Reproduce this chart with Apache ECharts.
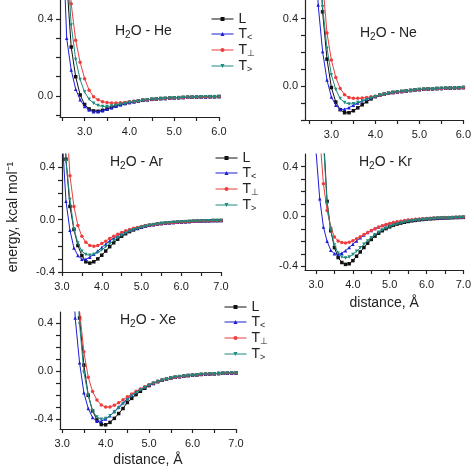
<!DOCTYPE html>
<html><head><meta charset="utf-8">
<script src="https://cdn.jsdelivr.net/npm/echarts@6/dist/echarts.min.js"></script>
<style>html,body{margin:0;padding:0;background:#fff}#c{width:474px;height:474px}</style>
</head><body><div id="c"></div>
<script>
// ---------- data ----------
const seriesNames = ['L', 'T<', 'T⊥', 'T>'];
const panelNames = ['He', 'Ne', 'Ar', 'Kr', 'Xe'];

// H2O - He
const heX = [2.5,2.6,2.7,2.8,2.9,3.0,3.1,3.2,3.3,3.4,3.5,3.6,3.7,3.8,3.9,4.0,4.1,4.2,4.3,4.4,4.5,4.6,4.7,4.8,4.9,5.0,5.1,5.2,5.3,5.4,5.5,5.6,5.7,5.8,5.9,6.0];
const heL     = [null,0.6,0.255,0.1,0.005,-0.045,-0.068,-0.078,-0.08,-0.075,-0.068,-0.06,-0.052,-0.045,-0.039,-0.034,-0.03,-0.026,-0.023,-0.02,-0.018,-0.016,-0.014,-0.013,-0.011,-0.01,-0.009,-0.008,-0.007,-0.0065,-0.006,-0.005,-0.005,-0.004,-0.004,-0.0035];
const heTlt   = [0.9,0.3,0.135,0.035,-0.02,-0.055,-0.073,-0.082,-0.082,-0.077,-0.07,-0.062,-0.054,-0.046,-0.04,-0.034,-0.03,-0.026,-0.023,-0.02,-0.018,-0.016,-0.014,-0.013,-0.011,-0.01,-0.009,-0.008,-0.007,-0.0065,-0.006,-0.005,-0.005,-0.004,-0.004,-0.0035];
const heTperp = [null,1.0,0.48,0.29,0.175,0.09,0.03,-0.005,-0.02,-0.03,-0.035,-0.037,-0.037,-0.036,-0.034,-0.031,-0.028,-0.025,-0.022,-0.02,-0.018,-0.016,-0.014,-0.013,-0.011,-0.01,-0.009,-0.008,-0.007,-0.0065,-0.006,-0.005,-0.005,-0.004,-0.004,-0.0035];
const heTgt   = [null,0.75,0.37,0.19,0.085,0.02,-0.018,-0.038,-0.05,-0.055,-0.055,-0.053,-0.049,-0.044,-0.039,-0.034,-0.03,-0.026,-0.023,-0.02,-0.018,-0.016,-0.014,-0.013,-0.011,-0.01,-0.009,-0.008,-0.007,-0.0065,-0.006,-0.005,-0.005,-0.004,-0.004,-0.0035];

// H2O - Ne
const neX = [2.6,2.7,2.8,2.9,3.0,3.1,3.2,3.3,3.4,3.5,3.6,3.7,3.8,3.9,4.0,4.1,4.2,4.3,4.4,4.5,4.6,4.7,4.8,4.9,5.0,5.1,5.2,5.3,5.4,5.5,5.6,5.7,5.8,5.9,6.0];
const neL     = [null,1.0,0.44,0.16,-0.008,-0.094,-0.139,-0.157,-0.157,-0.145,-0.128,-0.11,-0.092,-0.075,-0.062,-0.053,-0.047,-0.042,-0.037,-0.034,-0.031,-0.028,-0.025,-0.022,-0.02,-0.018,-0.016,-0.015,-0.014,-0.013,-0.012,-0.011,-0.01,-0.009,-0.008];
const neTlt   = [1.1,0.48,0.205,0.036,-0.064,-0.113,-0.137,-0.137,-0.127,-0.113,-0.1,-0.088,-0.077,-0.068,-0.06,-0.053,-0.047,-0.042,-0.037,-0.034,-0.031,-0.028,-0.025,-0.022,-0.02,-0.018,-0.016,-0.015,-0.014,-0.013,-0.012,-0.011,-0.01,-0.009,-0.008];
const neTperp = [null,null,0.62,0.315,0.155,0.052,-0.014,-0.05,-0.067,-0.072,-0.072,-0.07,-0.067,-0.063,-0.059,-0.053,-0.047,-0.042,-0.037,-0.034,-0.031,-0.028,-0.025,-0.022,-0.02,-0.018,-0.016,-0.015,-0.014,-0.013,-0.012,-0.011,-0.01,-0.009,-0.008];
const neTgt   = [null,1.1,0.47,0.225,0.066,-0.02,-0.073,-0.097,-0.105,-0.104,-0.097,-0.088,-0.079,-0.07,-0.062,-0.054,-0.048,-0.042,-0.037,-0.034,-0.031,-0.028,-0.025,-0.022,-0.02,-0.018,-0.016,-0.015,-0.014,-0.013,-0.012,-0.011,-0.01,-0.009,-0.008];

// H2O - Ar
const arX = [3.0,3.1,3.2,3.3,3.4,3.5,3.6,3.7,3.8,3.9,4.0,4.1,4.2,4.3,4.4,4.5,4.6,4.7,4.8,4.9,5.0,5.1,5.2,5.3,5.4,5.5,5.6,5.7,5.8,5.9,6.0,6.1,6.2,6.3,6.4,6.5,6.6,6.7,6.8,6.9,7.0];
const arL     = [1.5,0.46,0.1,-0.076,-0.198,-0.275,-0.322,-0.332,-0.322,-0.3,-0.272,-0.24,-0.207,-0.177,-0.15,-0.127,-0.108,-0.092,-0.079,-0.068,-0.058,-0.05,-0.044,-0.039,-0.034,-0.03,-0.027,-0.024,-0.022,-0.02,-0.018,-0.016,-0.015,-0.013,-0.012,-0.011,-0.01,-0.009,-0.008,-0.008,-0.007];
const arTlt   = [0.65,0.14,-0.082,-0.216,-0.275,-0.303,-0.303,-0.287,-0.265,-0.24,-0.213,-0.188,-0.163,-0.142,-0.123,-0.107,-0.093,-0.081,-0.071,-0.062,-0.055,-0.048,-0.043,-0.038,-0.034,-0.03,-0.027,-0.024,-0.022,-0.02,-0.018,-0.016,-0.015,-0.013,-0.012,-0.011,-0.01,-0.009,-0.008,-0.008,-0.007];
const arTperp = [2.0,0.85,0.335,0.1,-0.046,-0.127,-0.173,-0.198,-0.204,-0.198,-0.183,-0.165,-0.145,-0.127,-0.112,-0.098,-0.086,-0.076,-0.067,-0.06,-0.053,-0.047,-0.042,-0.037,-0.033,-0.03,-0.027,-0.024,-0.022,-0.02,-0.018,-0.016,-0.015,-0.013,-0.012,-0.011,-0.01,-0.009,-0.008,-0.008,-0.007];
const arTgt   = [1.4,0.445,0.153,-0.071,-0.178,-0.242,-0.267,-0.272,-0.267,-0.252,-0.232,-0.208,-0.184,-0.16,-0.139,-0.12,-0.104,-0.09,-0.078,-0.068,-0.059,-0.051,-0.045,-0.039,-0.035,-0.031,-0.027,-0.024,-0.022,-0.02,-0.018,-0.016,-0.015,-0.013,-0.012,-0.011,-0.01,-0.009,-0.008,-0.008,-0.007];

// H2O - Kr
const krX = [2.9,3.0,3.1,3.2,3.3,3.4,3.5,3.6,3.7,3.8,3.9,4.0,4.1,4.2,4.3,4.4,4.5,4.6,4.7,4.8,4.9,5.0,5.1,5.2,5.3,5.4,5.5,5.6,5.7,5.8,5.9,6.0,6.1,6.2,6.3,6.4,6.5,6.6,6.7,6.8,6.9,7.0];
const krL     = [null,null,null,0.65,0.12,-0.115,-0.25,-0.33,-0.37,-0.385,-0.38,-0.355,-0.32,-0.285,-0.25,-0.215,-0.185,-0.158,-0.135,-0.115,-0.098,-0.084,-0.072,-0.062,-0.054,-0.047,-0.041,-0.036,-0.032,-0.028,-0.025,-0.022,-0.02,-0.018,-0.016,-0.014,-0.013,-0.012,-0.011,-0.01,-0.009,-0.008];
const krTlt   = [1.3,0.52,0.141,-0.085,-0.2,-0.272,-0.3,-0.305,-0.295,-0.275,-0.25,-0.223,-0.197,-0.172,-0.15,-0.13,-0.113,-0.098,-0.085,-0.074,-0.065,-0.057,-0.05,-0.044,-0.039,-0.034,-0.03,-0.027,-0.024,-0.021,-0.019,-0.017,-0.015,-0.014,-0.012,-0.011,-0.01,-0.009,-0.008,-0.008,-0.007,-0.006];
const krTperp = [null,null,0.65,0.261,0.048,-0.091,-0.165,-0.197,-0.21,-0.213,-0.207,-0.195,-0.18,-0.163,-0.146,-0.13,-0.114,-0.099,-0.086,-0.075,-0.066,-0.057,-0.05,-0.044,-0.039,-0.034,-0.03,-0.027,-0.024,-0.021,-0.019,-0.017,-0.015,-0.014,-0.012,-0.011,-0.01,-0.009,-0.008,-0.008,-0.007,-0.006];
const krTgt   = [null,null,null,0.6,0.1,-0.11,-0.23,-0.295,-0.325,-0.333,-0.325,-0.305,-0.28,-0.252,-0.224,-0.197,-0.172,-0.148,-0.128,-0.11,-0.095,-0.082,-0.071,-0.061,-0.053,-0.046,-0.04,-0.035,-0.031,-0.028,-0.025,-0.022,-0.02,-0.018,-0.016,-0.014,-0.013,-0.012,-0.011,-0.01,-0.009,-0.008];

// H2O - Xe
const xeX = [3.2,3.3,3.4,3.5,3.6,3.7,3.8,3.9,4.0,4.1,4.2,4.3,4.4,4.5,4.6,4.7,4.8,4.9,5.0,5.1,5.2,5.3,5.4,5.5,5.6,5.7,5.8,5.9,6.0,6.1,6.2,6.3,6.4,6.5,6.6,6.7,6.8,6.9,7.0];
const xeL     = [null,1.3,0.44,0.05,-0.2,-0.33,-0.405,-0.443,-0.445,-0.425,-0.392,-0.352,-0.31,-0.26,-0.226,-0.195,-0.167,-0.142,-0.12,-0.103,-0.088,-0.076,-0.066,-0.058,-0.051,-0.046,-0.041,-0.037,-0.034,-0.031,-0.028,-0.026,-0.024,-0.022,-0.02,-0.018,-0.017,-0.016,-0.015];
const xeTlt   = [1.2,0.44,0.07,-0.18,-0.31,-0.385,-0.415,-0.415,-0.398,-0.37,-0.335,-0.298,-0.262,-0.228,-0.2,-0.174,-0.151,-0.131,-0.113,-0.098,-0.085,-0.074,-0.065,-0.057,-0.05,-0.045,-0.04,-0.036,-0.033,-0.03,-0.027,-0.025,-0.023,-0.021,-0.019,-0.018,-0.016,-0.015,-0.014];
const xeTperp = [null,1.4,0.5,0.16,-0.05,-0.17,-0.24,-0.28,-0.298,-0.297,-0.283,-0.262,-0.238,-0.213,-0.19,-0.168,-0.148,-0.13,-0.113,-0.098,-0.085,-0.074,-0.065,-0.057,-0.05,-0.045,-0.04,-0.036,-0.033,-0.03,-0.027,-0.025,-0.023,-0.021,-0.019,-0.018,-0.016,-0.015,-0.014];
const xeTgt   = [null,1.1,0.39,-0.01,-0.2,-0.33,-0.38,-0.4,-0.393,-0.37,-0.34,-0.305,-0.27,-0.237,-0.207,-0.18,-0.156,-0.135,-0.117,-0.101,-0.087,-0.076,-0.066,-0.058,-0.051,-0.046,-0.041,-0.037,-0.034,-0.031,-0.028,-0.026,-0.024,-0.022,-0.02,-0.018,-0.017,-0.016,-0.015];

// tick values / labels
const xTicksA = [2.5,3.0,3.5,4.0,4.5,5.0,5.5,6.0];
const xLabelsA = [3.0,4.0,5.0,6.0];
const xTicksB = [3.0,3.5,4.0,4.5,5.0,5.5,6.0,6.5,7.0];
const xLabelsB = [3.0,4.0,5.0,6.0,7.0];
const yTicksHe = [-0.1,0.0,0.1,0.2,0.3,0.4];
const yTicksNe = [-0.2,-0.1,0.0,0.1,0.2,0.3,0.4];
const yTicksHeavy = [-0.4,-0.3,-0.2,-0.1,0.0,0.1,0.2,0.3,0.4];
const yLabelsLight = [0.0,0.4];
const yLabelsHeavy = [-0.4,0.0,0.4];

// ---------- chart ----------
const FONT = '"Liberation Sans", Arial, sans-serif';
const colors = ['#111111', '#1c1cd8', '#ee3d3d', '#1d8a7f'];
const symbols = ['rect', 'triangle', 'circle', 'triangle'];
const rotates = [0, 0, 0, 180];

const panels = [
  {x: heX, ys: [heL, heTlt, heTperp, heTgt], grid: {left: 60, top: 0, width: 159, height: 117}, xr: [2.45, 6.0], yr: [-0.11, 0.5], xt: xTicksA, xl: xLabelsA, yt: yTicksHe, yl: yLabelsLight, title: [115, 22]},
  {x: neX, ys: [neL, neTlt, neTperp, neTgt], grid: {left: 305, top: 0, width: 160, height: 120}, xr: [2.4, 6.0], yr: [-0.2, 0.51], xt: xTicksA, xl: xLabelsA, yt: yTicksNe, yl: yLabelsLight, title: [360, 24]},
  {x: arX, ys: [arL, arTlt, arTperp, arTgt], grid: {left: 62, top: 154, width: 159, height: 118}, xr: [3.0, 7.0], yr: [-0.4, 0.5], xt: xTicksB, xl: xLabelsB, yt: yTicksHeavy, yl: yLabelsHeavy, title: [110, 153]},
  {x: krX, ys: [krL, krTlt, krTperp, krTgt], grid: {left: 305, top: 154, width: 160, height: 116}, xr: [2.7, 7.0], yr: [-0.43, 0.5], xt: xTicksB, xl: xLabelsB, yt: yTicksHeavy, yl: yLabelsHeavy, title: [359, 153], xname: true, xnameGap: 26},
  {x: xeX, ys: [xeL, xeTlt, xeTperp, xeTgt], grid: {left: 60, top: 312, width: 176, height: 117}, xr: [2.95, 7.0], yr: [-0.48, 0.49], xt: xTicksB, xl: xLabelsB, yt: yTicksHeavy, yl: yLabelsHeavy, title: [120, 311], xname: true, xnameGap: 24}
];

const lineCol = '#222';
const axisLineStyle = {onZero: false, lineStyle: {color: lineCol, width: 1.2}};
const tickStyle = {length: 4, lineStyle: {color: lineCol, width: 1.2}};
const labelStyle = {color: lineCol, fontSize: 11, fontFamily: FONT, formatter: v => v.toFixed(1)};

const grids = [], xAxes = [], yAxes = [], series = [], titles = [];
panels.forEach((p, gi) => {
  grids.push(Object.assign({containLabel: false}, p.grid));
  xAxes.push({
    type: 'value', gridIndex: gi, min: p.xr[0], max: p.xr[1],
    axisLine: axisLineStyle,
    axisTick: Object.assign({customValues: p.xt}, tickStyle),
    axisLabel: Object.assign({customValues: p.xl, margin: 9}, labelStyle),
    splitLine: {show: false},
    name: p.xname ? 'distance, Å' : '',
    nameLocation: 'middle', nameGap: p.xnameGap || 20,
    nameTextStyle: {fontSize: 14, color: lineCol, fontFamily: FONT}
  });
  yAxes.push({
    type: 'value', gridIndex: gi, min: p.yr[0], max: p.yr[1],
    axisLine: axisLineStyle,
    axisTick: Object.assign({customValues: p.yt}, tickStyle),
    axisLabel: Object.assign({customValues: p.yl, margin: 7}, labelStyle),
    splitLine: {show: false}
  });
  titles.push({
    text: '{a|H}{s|2}{a|O - ' + panelNames[gi] + '}',
    left: p.title[0], top: p.title[1], padding: 0,
    textStyle: {
      fontWeight: 'normal',
      rich: {
        a: {fontSize: 14, fontWeight: 'normal', fontFamily: FONT, color: lineCol, lineHeight: 18},
        s: {fontSize: 10, fontWeight: 'normal', fontFamily: FONT, color: lineCol, lineHeight: 10, padding: [9, 0, 0, 0]}
      }
    }
  });
  p.ys.forEach((vals, si) => {
    series.push({
      name: seriesNames[si], type: 'line', xAxisIndex: gi, yAxisIndex: gi,
      data: p.x.map((x, i) => [x, vals[i]]),
      symbol: symbols[si], symbolRotate: rotates[si], symbolSize: 3.5,
      lineStyle: {width: 1, color: colors[si]},
      itemStyle: {color: colors[si]},
      clip: true, z: 2 + si
    });
  });
});

const legendSub = {'L': '{t|L}', 'T<': '{t|T}{s|<}', 'T⊥': '{t|T}{s|⊥}', 'T>': '{t|T}{s|>}'};
function makeLegend(left, top) {
  return {
    data: seriesNames, orient: 'vertical', left: left, top: top,
    itemWidth: 22, itemHeight: 5, itemGap: 0, padding: 0,
    lineStyle: {width: 1},
    formatter: n => legendSub[n],
    textStyle: {
      rich: {
        t: {fontSize: 14, fontFamily: FONT, color: lineCol, lineHeight: 16},
        s: {fontSize: 9, fontFamily: FONT, color: lineCol, lineHeight: 9, padding: [7, 0, 0, 0]}
      }
    }
  };
}

const chart = echarts.init(document.getElementById('c'), null, {renderer: 'canvas'});
chart.setOption({
  animation: false,
  backgroundColor: '#fff',
  title: titles,
  grid: grids,
  xAxis: xAxes,
  yAxis: yAxes,
  legend: [makeLegend(211, 12), makeLegend(215, 151), makeLegend(224, 300)],
  graphic: [{
    type: 'text', x: 13, y: 217, rotation: Math.PI / 2,
    style: {
      text: 'energy, kcal mol⁻¹', fontSize: 14, fontFamily: FONT, fill: lineCol,
      align: 'center', verticalAlign: 'middle'
    }
  }],
  series: series
});
</script>
</body></html>
